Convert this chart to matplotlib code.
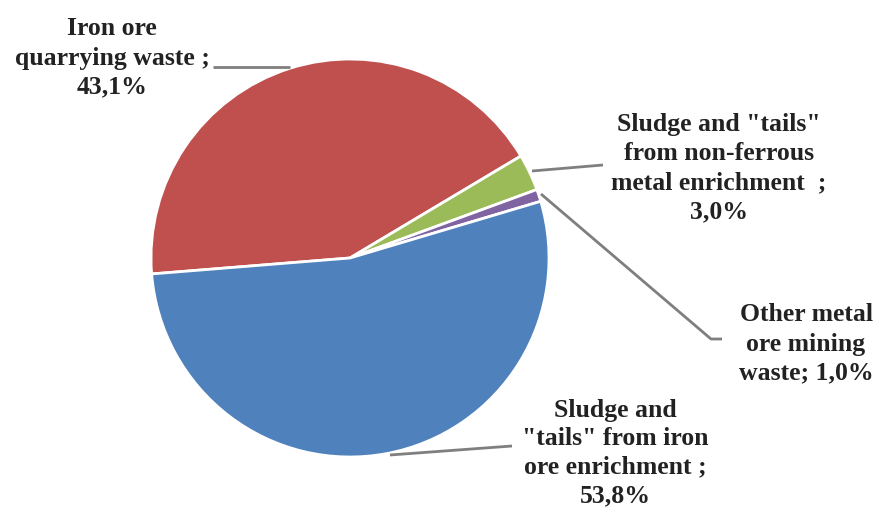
import matplotlib.pyplot as plt

# waste shares, percent
labels = ['Iron ore\nquarrying waste ;\n43,1%',
          'Sludge and "tails"\nfrom non-ferrous\nmetal enrichment  ;\n3,0%',
          'Other metal\nore mining\nwaste; 1,0%',
          'Sludge and\n"tails" from iron\nore enrichment ;\n53,8%']
shares = [43.1, 3.0, 1.0, 53.8]
colors = ['#C0504D', '#9BBB59', '#8064A2', '#4F81BD']

W, H = 877, 511
fig = plt.figure(figsize=(W / 100, H / 100), dpi=100)
ax = fig.add_axes([0, 0, 1, 1])
ax.set_xlim(0, W)
ax.set_ylim(0, H)
ax.set_aspect('equal')
ax.axis('off')

cx, cy, r = 350, H - 258, 199
ax.pie(shares, colors=colors, center=(cx, cy), radius=r, startangle=184.6,
       counterclock=False, wedgeprops=dict(edgecolor='white', linewidth=2))
ax.set_xlim(0, W)
ax.set_ylim(0, H)

# leader lines (pixel coords, y from top)
leaders = [
    [(290, 67), (213, 67)],
    [(532, 171), (603, 165)],
    [(541, 194), (711, 339), (722, 339)],
    [(390, 455), (512, 446)],
]
for pts in leaders:
    ax.plot([p[0] for p in pts], [H - p[1] for p in pts], color='#7f7f7f', lw=2,
            solid_capstyle='butt')

pos = [(112, 58), (719, 168), (806, 344), (615, 453)]
spacing = [1.35, 1.35, 1.35, 1.3]
for (x, y), lab, ls in zip(pos, labels, spacing):
    ax.text(x, H - y, lab, ha='center', va='center', fontsize=18.5,
            fontweight='bold', family='Liberation Serif', color='#222222',
            linespacing=ls)

fig.savefig('out.png', dpi=100)
